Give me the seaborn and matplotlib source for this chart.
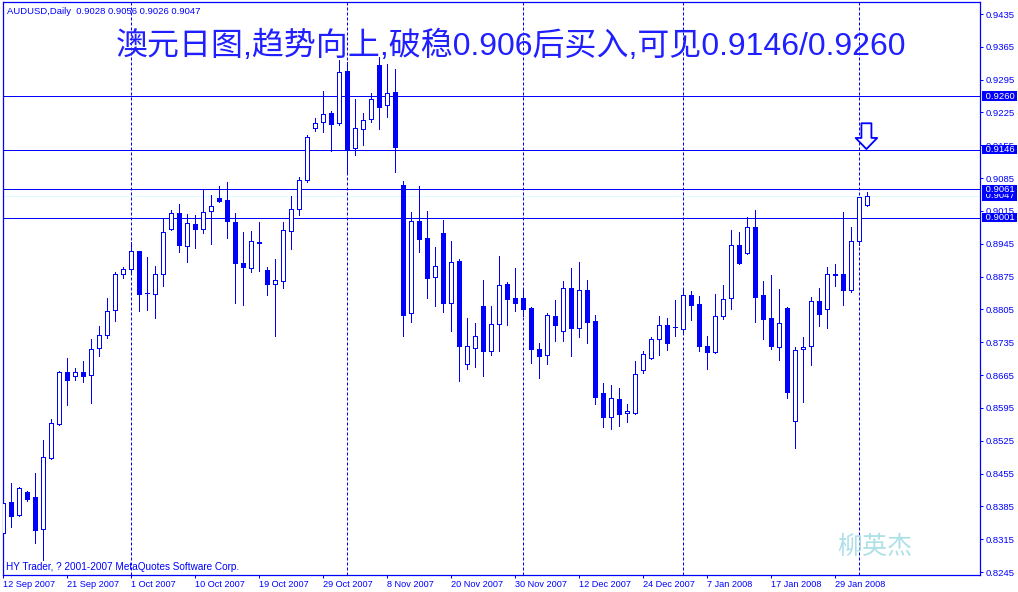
import numpy as np
import pandas as pd
import matplotlib
matplotlib.use('Agg')
import matplotlib.pyplot as plt
import matplotlib.transforms as mtransforms
import seaborn as sns

# AUDUSD daily bars, 12 Sep 2007 .. 1 Feb 2008
opens = [0.8328, 0.8394, 0.8367, 0.8415, 0.8404, 0.8336, 0.8489, 0.8561, 0.8671, 0.8662,
         0.8671, 0.8665, 0.8722, 0.8750, 0.8803, 0.8880, 0.8891, 0.8929, 0.8840, 0.8837,
         0.8880, 0.8976, 0.9010, 0.8940, 0.8987, 0.8976, 0.9014, 0.9042, 0.9038, 0.8991,
         0.8903, 0.8893, 0.8947, 0.8889, 0.8859, 0.8865, 0.8972, 0.9019, 0.9080, 0.9191,
         0.9204, 0.9223, 0.9202, 0.9314, 0.9149, 0.9189, 0.9211, 0.9326, 0.9240, 0.9269,
         0.9070, 0.8797, 0.8993, 0.8957, 0.8874, 0.8968, 0.8819, 0.8908, 0.8688, 0.8722,
         0.8812, 0.8717, 0.8773, 0.8859, 0.8829, 0.8830, 0.8809, 0.8720, 0.8707, 0.8792,
         0.8760, 0.8851, 0.8765, 0.8846, 0.8780, 0.8627, 0.8576, 0.8614, 0.8584, 0.8585,
         0.8675, 0.8702, 0.8743, 0.8771, 0.8767, 0.8763, 0.8835, 0.8817, 0.8726, 0.8714,
         0.8790, 0.8829, 0.8942, 0.8926, 0.8981, 0.8836, 0.8787, 0.8724, 0.8808, 0.8568,
         0.8720, 0.8726, 0.8822, 0.8805, 0.8879, 0.8880, 0.8847, 0.8952, 0.9028]
highs = [0.8433, 0.8434, 0.8426, 0.8417, 0.8456, 0.8527, 0.8571, 0.8673, 0.8701, 0.8680,
         0.8694, 0.8743, 0.8770, 0.8829, 0.8884, 0.8895, 0.8949, 0.8930, 0.8916, 0.8897,
         0.8999, 0.9016, 0.9030, 0.9008, 0.9006, 0.9059, 0.9048, 0.9068, 0.9076, 0.9010,
         0.8970, 0.8972, 0.8991, 0.8895, 0.8913, 0.8991, 0.9046, 0.9087, 0.9176, 0.9213,
         0.9270, 0.9228, 0.9337, 0.9333, 0.9253, 0.9223, 0.9266, 0.9344, 0.9328, 0.9317,
         0.9078, 0.9012, 0.9068, 0.9014, 0.8938, 0.8996, 0.8951, 0.8913, 0.8787, 0.8776,
         0.8868, 0.8812, 0.8918, 0.8863, 0.8893, 0.8846, 0.8811, 0.8733, 0.8797, 0.8825,
         0.8865, 0.8893, 0.8906, 0.8868, 0.8793, 0.8648, 0.8644, 0.8638, 0.8603, 0.8695,
         0.8716, 0.8746, 0.8791, 0.8786, 0.8825, 0.8850, 0.8844, 0.8833, 0.8748, 0.8838,
         0.8857, 0.8974, 0.8970, 0.9002, 0.9017, 0.8866, 0.8878, 0.8849, 0.8810, 0.8724,
         0.8746, 0.8831, 0.8850, 0.8896, 0.8902, 0.9013, 0.8980, 0.9045, 0.9056]
lows = [0.8317, 0.8340, 0.8365, 0.8397, 0.8308, 0.8271, 0.8485, 0.8559, 0.8602, 0.8655,
        0.8651, 0.8606, 0.8706, 0.8745, 0.8781, 0.8871, 0.8883, 0.8802, 0.8804, 0.8787,
        0.8856, 0.8974, 0.8928, 0.8907, 0.8935, 0.8967, 0.8945, 0.9034, 0.8957, 0.8819,
        0.8815, 0.8884, 0.8888, 0.8836, 0.8749, 0.8851, 0.8934, 0.9007, 0.9077, 0.9185,
        0.9183, 0.9142, 0.9199, 0.9097, 0.9135, 0.9155, 0.9204, 0.9189, 0.9216, 0.9099,
        0.8749, 0.8779, 0.8928, 0.8830, 0.8813, 0.8800, 0.8760, 0.8653, 0.8679, 0.8683,
        0.8664, 0.8708, 0.8717, 0.8772, 0.8802, 0.8790, 0.8691, 0.8659, 0.8689, 0.8738,
        0.8738, 0.8706, 0.8747, 0.8733, 0.8603, 0.8555, 0.8550, 0.8557, 0.8565, 0.8583,
        0.8670, 0.8700, 0.8708, 0.8719, 0.8749, 0.8755, 0.8783, 0.8717, 0.8679, 0.8712,
        0.8784, 0.8806, 0.8902, 0.8924, 0.8779, 0.8743, 0.8720, 0.8697, 0.8617, 0.8510,
        0.8608, 0.8686, 0.8770, 0.8766, 0.8856, 0.8815, 0.8843, 0.8942, 0.9026]
closes = [0.8392, 0.8365, 0.8424, 0.8401, 0.8335, 0.8490, 0.8562, 0.8671, 0.8654, 0.8671,
          0.8662, 0.8720, 0.8750, 0.8801, 0.8880, 0.8891, 0.8929, 0.8837, 0.8839, 0.8880,
          0.8970, 0.9010, 0.8942, 0.8989, 0.8976, 0.9012, 0.9025, 0.9037, 0.8993, 0.8903,
          0.8895, 0.8950, 0.8948, 0.8859, 0.8868, 0.8974, 0.9019, 0.9080, 0.9172, 0.9202,
          0.9221, 0.9200, 0.9311, 0.9147, 0.9191, 0.9208, 0.9253, 0.9237, 0.9266, 0.9152,
          0.8794, 0.8993, 0.8956, 0.8871, 0.8897, 0.8819, 0.8906, 0.8728, 0.8728, 0.8748,
          0.8717, 0.8773, 0.8857, 0.8828, 0.8819, 0.8807, 0.8721, 0.8706, 0.8793, 0.8772,
          0.8850, 0.8766, 0.8846, 0.8779, 0.8619, 0.8576, 0.8616, 0.8581, 0.8588, 0.8667,
          0.8709, 0.8741, 0.8771, 0.8734, 0.8768, 0.8835, 0.8815, 0.8728, 0.8714, 0.8790,
          0.8827, 0.8942, 0.8905, 0.8980, 0.8832, 0.8785, 0.8726, 0.8776, 0.8630, 0.8718,
          0.8724, 0.8822, 0.8796, 0.8880, 0.8881, 0.8847, 0.8952, 0.9044, 0.9047]

date_labels = ['12 Sep 2007', '21 Sep 2007', '1 Oct 2007', '10 Oct 2007', '19 Oct 2007',
               '29 Oct 2007', '8 Nov 2007', '20 Nov 2007', '30 Nov 2007', '12 Dec 2007',
               '24 Dec 2007', '7 Jan 2008', '17 Jan 2008', '29 Jan 2008']
date_bars = [0, 8, 16, 24, 32, 40, 48, 56, 64, 72, 80, 88, 96, 104]
month_bars = [16, 43, 65, 85, 107]   # period separators

price_ticks = [0.8245, 0.8315, 0.8385, 0.8455, 0.8525, 0.8595, 0.8665, 0.8735, 0.8805,
               0.8875, 0.8945, 0.9015, 0.9085, 0.9155, 0.9225, 0.9295, 0.9365, 0.9435]
levels = [0.9260, 0.9146, 0.9061, 0.9001]
bid = 0.9047

# hand-drawn arrow above the last bars (tail / tip prices)
arrow_bar = 107.9
arrow_tail, arrow_tip = 0.9202, 0.9147

title = '澳元日图,趋势向上,破稳0.906后买入,可见0.9146/0.9260'
header = 'AUDUSD,Daily  0.9028 0.9056 0.9026 0.9047'
footer = 'HY Trader, ? 2001-2007 MetaQuotes Software Corp.'

df = pd.DataFrame({'Open': opens, 'High': highs, 'Low': lows, 'Close': closes})
df['Bar'] = np.arange(len(df))
df['Up'] = df['Close'] >= df['Open']

sns.set_theme(style='white')
plt.rcParams['font.family'] = ['Liberation Sans', 'Noto Sans CJK SC', 'DejaVu Sans']
BLUE = '#0000FF'
PX = 0.72  # one pixel in points at dpi 100

fig = plt.figure(figsize=(10.18, 5.92), dpi=100)
fig.patch.set_facecolor('white')
ax = fig.add_axes([3 / 1018, 17 / 592, 977 / 1018, 573 / 592])
ax.set_facecolor('white')

# separators and horizontal levels
for b in month_bars:
    ax.axvline(b, color=BLUE, lw=PX, ls=(0, (3, 2)), zorder=1)
ax.axhline(bid, color='#DDFBFF', lw=PX, zorder=1)
for lv in levels:
    ax.axhline(lv, color=BLUE, lw=PX, zorder=1.5)

# candles
ax.vlines(df['Bar'], df['Low'], df['High'], color=BLUE, lw=PX, zorder=2, antialiased=False)
body_h = (df['Close'] - df['Open']).abs().clip(lower=0.00005)
body_b = df[['Open', 'Close']].min(axis=1)
ax.bar(df['Bar'], body_h, bottom=body_b, width=0.52,
       color=np.where(df['Up'], 'white', BLUE), edgecolor=BLUE, linewidth=PX,
       zorder=3, antialiased=False)

ax.set_xlim(-0.05, 122.1)
ax.set_ylim(0.82387, 0.94606)

# axes styling
for sp in ax.spines.values():
    sp.set_color(BLUE)
    sp.set_linewidth(0.9)
ax.grid(False)
ax.yaxis.tick_right()
ax.set_yticks(price_ticks)
ax.set_yticklabels([f'{v:.4f}' for v in price_ticks])
ax.tick_params(axis='y', right=True, left=False, labelright=True, labelleft=False,
               direction='out', length=2, width=PX, pad=2, colors=BLUE, labelsize=6.8)
ax.set_xticks(date_bars)
ax.set_xticklabels(date_labels, ha='left')
ax.tick_params(axis='x', bottom=True, direction='out', length=2.5, width=PX, pad=1,
               colors=BLUE, labelsize=6.6)

# highlighted price labels on the right scale
trans = mtransforms.blended_transform_factory(ax.transAxes, ax.transData)
for lv in [bid] + levels:
    z = 6 if lv == 0.9061 else 5
    ax.text(1.0027, lv, f' {lv:.4f} ', transform=trans, ha='left', va='center',
            fontsize=6.8, color='white', clip_on=False, zorder=z,
            bbox=dict(boxstyle='square,pad=0.02', fc=BLUE, ec='none'))

# hollow down arrow
ax.annotate('', xy=(arrow_bar, arrow_tip), xytext=(arrow_bar, arrow_tail),
            arrowprops=dict(arrowstyle='simple,head_length=0.8,head_width=1.55,tail_width=0.72',
                            mutation_scale=10, fc='white', ec=BLUE, lw=1.3,
                            shrinkA=0, shrinkB=0),
            zorder=5)

# texts
fig.text(6.7 / 1018, 1 - 14 / 592, header, fontsize=6.8, color=BLUE, va='baseline')
fig.text(5.7 / 1018, 1 - 570 / 592, footer, fontsize=7.2, color=BLUE, va='baseline')
fig.text(511 / 1018, 1 - 46 / 592, title, ha='center', va='center', fontsize=23,
         color='#1f1fff')
fig.text(875 / 1018, 1 - 547 / 592, '柳英杰', ha='center', va='center', fontsize=18,
         color='#aee0e8', family='Noto Sans CJK SC')

fig.savefig('out.png', dpi=100, facecolor='white')
